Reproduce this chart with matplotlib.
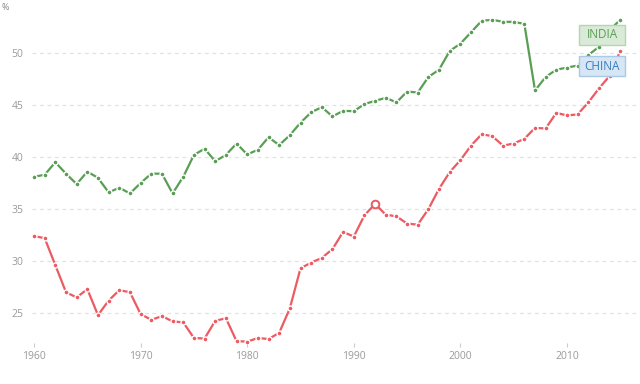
import numpy as np
import matplotlib
matplotlib.use("Agg")
import matplotlib.pyplot as plt
from matplotlib.patches import Rectangle

plt.rcParams['font.family'] = ['Open Sans', 'DejaVu Sans']

years = list(range(1960, 2016))

india = [38.1, 38.3, 39.5, 38.4, 37.4, 38.6, 38.0, 36.6, 37.05, 36.5,
         37.5, 38.4, 38.4, 36.5, 38.1, 40.2, 40.8, 39.6, 40.2, 41.3,
         40.25, 40.7, 41.9, 41.15, 42.1, 43.3, 44.3, 44.8, 43.9, 44.45,
         44.4, 45.1, 45.4, 45.7, 45.25, 46.3, 46.2, 47.7, 48.4, 50.2,
         50.9, 52.0, 53.1, 53.2, 53.0, 53.0, 52.8, 46.4, 47.7, 48.4,
         48.6, 48.8, 49.8, 50.6, 52.2, 53.2]

china = [32.4, 32.2, 29.6, 27.0, 26.5, 27.3, 24.8, 26.2, 27.2, 27.0,
         24.9, 24.35, 24.7, 24.2, 24.1, 22.6, 22.55, 24.25, 24.5, 22.3,
         22.25, 22.6, 22.5, 23.1, 25.45, 29.3, 29.85, 30.3, 31.15, 32.8,
         32.35, 34.4, 35.5, 34.45, 34.3, 33.6, 33.5, 35.0, 36.95, 38.55,
         39.7, 41.1, 42.2, 42.0, 41.1, 41.3, 41.75, 42.8, 42.75, 44.25,
         44.0, 44.1, 45.25, 46.6, 47.8, 50.2]

green = '#5a9e55'
red = '#ec5a62'
grey = '#9a9a9a'

W, H = 640, 384
fig = plt.figure(figsize=(6.4, 3.84), dpi=100)
ax = fig.add_axes([32 / W, 1 - 343 / H, 1 - 32 / W, 343 / H])

for vals, col in [(india, green), (china, red)]:
    ax.plot(years, vals, color=col, lw=1.6, marker='o', ms=3.6,
            mfc=col, mec='white', mew=1.0, zorder=3)

# highlighted point
i92 = years.index(1992)
ax.plot(years[i92], china[i92], marker='o', ms=5.5, mfc='white',
        mec=red, mew=1.4, zorder=4)

ax.set_xlim(1959.81, 2016.85)
ax.set_ylim(22.12, 55.1)
ax.set_yticks([25, 30, 35, 40, 45, 50])
ax.set_xticks([1960, 1970, 1980, 1990, 2000, 2010])
ax.grid(axis='y', color='#e2e2e2', ls=(0, (3, 3)), lw=0.9)
ax.set_axisbelow(True)
for s in ax.spines.values():
    s.set_visible(False)
ax.tick_params(axis='y', length=0, pad=6, labelsize=7.5, labelcolor=grey)
ax.tick_params(axis='x', length=3, width=0.8, color='#cccccc', pad=3,
               labelsize=7.5, labelcolor=grey)

fig.text(2 / W, 1 - 7 / H, '%', fontsize=6.5, color='#888888',
         va='center', ha='left')

# series labels (fixed-size boxes in pixel coords)
labels = [('INDIA', 25, green, '#d9ebd6', '#b5d6b0'),
          ('CHINA', 56, '#3a7dbf', '#d6e6f4', '#a9c9e6')]
for txt, top, tc, fc, ec in labels:
    x0, w, h = 579, 46, 20
    fig.patches.append(Rectangle((x0 / W, 1 - (top + h) / H), w / W, h / H,
                                 transform=fig.transFigure, fc=fc, ec=ec,
                                 lw=1, zorder=5))
    fig.text((x0 + w / 2) / W, 1 - (top + h / 2) / H, txt, fontsize=8.5,
             color=tc, ha='center', va='center', zorder=6)

fig.savefig('out.png', dpi=100)
